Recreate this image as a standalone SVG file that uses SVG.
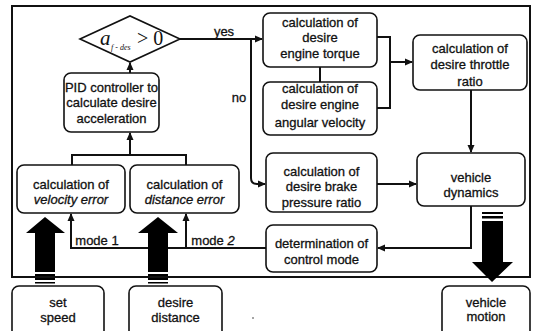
<svg xmlns="http://www.w3.org/2000/svg" width="534" height="331" viewBox="0 0 534 331">
<style>
.box{fill:#fff;stroke:#111;stroke-width:1.6}
.t{font-family:"Liberation Sans",Arial,sans-serif;font-size:13px;fill:#111;stroke:#111;stroke-width:0.3;text-anchor:middle}
.i{font-style:italic}
.ln{fill:none;stroke:#111;stroke-width:2}
.big{fill:#000}
.m{font-family:"Liberation Serif","Times New Roman",serif;font-style:italic;fill:#111}
</style>
<defs>
<marker id="ah" markerWidth="8" markerHeight="8" refX="7" refY="4" orient="auto" markerUnits="userSpaceOnUse">
<path d="M0,0.5 L8,4 L0,7.5 z" fill="#111"/>
</marker>
</defs>
<rect width="534" height="331" fill="#fff"/>
<rect x="12" y="6" width="518" height="271" fill="none" stroke="#111" stroke-width="2"/>

<g id="connectors">
<path class="ln" d="M130,73 L130,63" marker-end="url(#ah)"/>
<path class="ln" d="M130,155 L130,133" marker-end="url(#ah)"/>
<path class="ln" d="M72,165 L72,155 L186,155 L186,165"/>
<path class="ln" d="M180,39 L262,39" marker-end="url(#ah)"/>
<path class="ln" d="M251,39 L251,178 Q251,184 257,184 L265,184" marker-end="url(#ah)"/>
<path class="ln" d="M320,67 L320,82"/>
<path class="ln" d="M377,37 L390,37 L390,108 L377,108"/>
<path class="ln" d="M390,62 L412,62" marker-end="url(#ah)"/>
<path class="ln" d="M471,90 L471,152" marker-end="url(#ah)"/>
<path class="ln" d="M377,184 L416,184" marker-end="url(#ah)"/>
<path class="ln" d="M471,206 L471,248 L378,248" marker-end="url(#ah)"/>
<path class="ln" d="M266,248 L71,248 L71,214" marker-end="url(#ah)"/>
<path class="ln" d="M186,248 L186,214" marker-end="url(#ah)"/>
<text class="t" x="224" y="36">yes</text>
<text class="t" x="239" y="102">no</text>
<text class="t" x="97" y="245">mode 1</text>
<text class="t" x="213" y="245">mode <tspan class="i">2</tspan></text>
<path class="big" d="M45,217 L65,233 L55,233 L55,272 L35,272 L35,233 L26,233 Z"/>
<rect class="big" x="35" y="274" width="20" height="2"/>
<rect class="big" x="35" y="278" width="20" height="2"/>
<rect class="big" x="35" y="282" width="20" height="1.5"/>
<path class="big" d="M158,217 L178,233 L168,233 L168,272 L148,272 L148,233 L138,233 Z"/>
<rect class="big" x="148" y="274" width="20" height="2"/>
<rect class="big" x="148" y="278" width="20" height="2"/>
<rect class="big" x="148" y="282" width="20" height="1.5"/>
<rect class="big" x="482" y="212" width="21" height="2"/>
<rect class="big" x="482" y="216" width="21" height="2.5"/>
<path class="big" d="M482,221 L503,221 L503,262 L513,262 L492,282 L472,262 L482,262 Z"/>
</g>

<g id="decision">
<path d="M80,39 L130,16 L180,39 L130,62 Z" fill="#fff" stroke="#111" stroke-width="1.6"/>
<text class="m" x="100" y="45" font-size="21">a</text>
<text class="m" x="111" y="50" font-size="8">f - des</text>
<text x="137" y="45" font-size="20" fill="#111" font-family="Liberation Serif,serif">&gt; 0</text>
</g>

<g id="pid">
<rect class="box" x="64" y="73" width="95" height="59" rx="7"/>
<text class="t" x="111.5" y="92">PID controller to</text>
<text class="t" x="111.5" y="107">calculate desire</text>
<text class="t" x="111.5" y="123">acceleration</text>
</g>

<g id="velocity-error">
<rect class="box" x="17" y="165" width="108" height="48" rx="7"/>
<text class="t" x="71" y="189">calculation of</text>
<text class="t i" x="71" y="204">velocity error</text>
</g>

<g id="distance-error">
<rect class="box" x="130" y="165" width="109" height="48" rx="7"/>
<text class="t" x="184.5" y="189">calculation of</text>
<text class="t i" x="184.5" y="204">distance error</text>
</g>

<g id="engine-torque">
<rect class="box" x="263" y="13" width="114" height="54" rx="7"/>
<text class="t" x="320" y="27">calculation of</text>
<text class="t" x="320" y="42">desire</text>
<text class="t" x="320" y="58">engine torque</text>
</g>

<g id="angular-velocity">
<rect class="box" x="263" y="82" width="114" height="53" rx="7"/>
<text class="t" x="320" y="93">calculation of</text>
<text class="t" x="320" y="109">desire engine</text>
<text class="t" x="320" y="127">angular velocity</text>
</g>

<g id="throttle">
<rect class="box" x="413" y="35" width="114" height="55" rx="7"/>
<text class="t" x="470" y="53">calculation of</text>
<text class="t" x="470" y="69">desire throttle</text>
<text class="t" x="470" y="86">ratio</text>
</g>

<g id="brake">
<rect class="box" x="266" y="153" width="111" height="59" rx="7"/>
<text class="t" x="321.5" y="176">calculation of</text>
<text class="t" x="321.5" y="191">desire brake</text>
<text class="t" x="321.5" y="207">pressure ratio</text>
</g>

<g id="vehicle-dynamics">
<rect class="box" x="417" y="153" width="108" height="53" rx="7"/>
<text class="t" x="471" y="182">vehicle</text>
<text class="t" x="471" y="197">dynamics</text>
</g>

<g id="control-mode">
<rect class="box" x="266" y="225" width="111" height="47" rx="7"/>
<text class="t" x="321.5" y="248">determination of</text>
<text class="t" x="321.5" y="264">control mode</text>
</g>

<g id="set-speed">
<rect class="box" x="12" y="286" width="92" height="60" rx="7"/>
<text class="t" x="58" y="307">set</text>
<text class="t" x="58" y="322">speed</text>
</g>

<g id="desire-distance">
<rect class="box" x="129" y="286" width="93" height="60" rx="7"/>
<text class="t" x="175.5" y="307">desire</text>
<text class="t" x="175.5" y="322">distance</text>
</g>

<g id="vehicle-motion">
<rect class="box" x="442" y="286" width="88" height="60" rx="7"/>
<text class="t" x="486" y="307">vehicle</text>
<text class="t" x="486" y="321">motion</text>
</g>
<circle cx="253" cy="318" r="0.8" fill="#333"/>
</svg>
